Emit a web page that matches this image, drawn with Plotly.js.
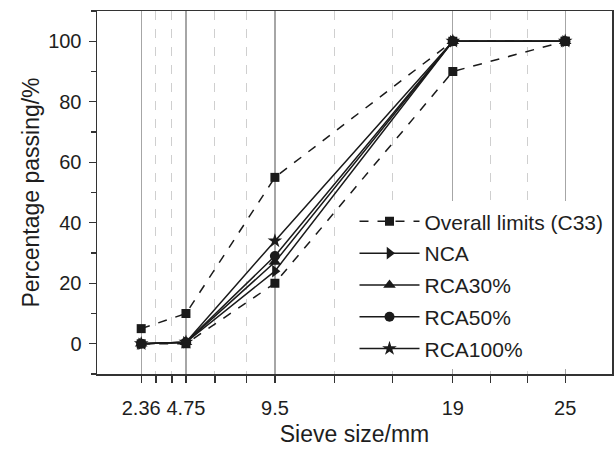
<!DOCTYPE html>
<html>
<head>
<meta charset="utf-8">
<script src="https://cdn.plot.ly/plotly-3.0.1.min.js"></script>
<style>html,body{margin:0;padding:0;background:#fff;}#chart{width:615px;height:451px;}</style>
</head>
<body>
<div id="chart"></div>
<script>
const sieveSizes = [2.36, 4.75, 9.5, 19, 25];
const tickLabels = ["2.36", "4.75", "9.5", "19", "25"];
const minorSieves = [3.15, 4, 6.3, 8, 12.7, 15.8, 21, 23];
const upperLimit = [5, 10, 55, 100, 100];
const lowerLimit = [0, 0, 20, 90, 100];
const nca = [0, 0.5, 24, 100, 100];
const rca30 = [0, 0.5, 27, 100, 100];
const rca50 = [0, 0.5, 29, 100, 100];
const rca100 = [0, 0.5, 34, 100, 100];

const font = {family: "Liberation Sans, Arial, sans-serif", color: "#1e1e1e"};
const solidLine = {color: "#1a1a1a", width: 1.5};
const dashLine = {color: "#1a1a1a", width: 1.5, dash: "dash"};

const traces = [
  {x: sieveSizes, y: upperLimit, name: "Overall limits (C33)", mode: "lines+markers",
   line: dashLine, marker: {symbol: "square", size: 9, color: "#1a1a1a"}, legendgroup: "a"},
  {x: sieveSizes, y: lowerLimit, name: "Overall limits (C33)", mode: "lines+markers", showlegend: false,
   line: dashLine, marker: {symbol: "square", size: 9, color: "#1a1a1a"}, legendgroup: "a"},
  {x: sieveSizes, y: nca, name: "NCA", mode: "lines+markers",
   line: solidLine, marker: {symbol: "triangle-right", size: 11, color: "#1a1a1a"}, legendgroup: "b"},
  {x: sieveSizes, y: rca30, name: "RCA30%", mode: "lines+markers",
   line: solidLine, marker: {symbol: "triangle-up", size: 11, color: "#1a1a1a"}, legendgroup: "c"},
  {x: sieveSizes, y: rca50, name: "RCA50%", mode: "lines+markers",
   line: solidLine, marker: {symbol: "circle", size: 10, color: "#1a1a1a"}, legendgroup: "d"},
  {x: sieveSizes, y: rca100, name: "RCA100%", mode: "lines+markers",
   line: solidLine, marker: {symbol: "star", size: 11, color: "#1a1a1a"}, legendgroup: "e"}
];

const layout = {
  width: 615, height: 451,
  margin: {l: 97, r: 3, t: 11, b: 77},
  paper_bgcolor: "#fff", plot_bgcolor: "#fff",
  font: Object.assign({size: 20}, font),
  showlegend: true,
  legend: {
    x: 0.5, y: 0.476, xanchor: "left", yanchor: "top",
    bgcolor: "#fff", borderwidth: 0,
    font: Object.assign({size: 21}, font),
    itemwidth: 60, traceorder: "grouped", tracegroupgap: 1.5
  },
  xaxis: {
    range: [0, 27.5], showline: true, mirror: true, linecolor: "#333", linewidth: 1.5,
    tickmode: "array", tickvals: sieveSizes, ticktext: tickLabels,
    ticks: "outside", ticklen: 7, tickwidth: 1.2, tickcolor: "#333",
    showgrid: true, gridcolor: "#a6a6a6", gridwidth: 1.2,
    zeroline: false, ticklabelstandoff: 8,
    tickfont: Object.assign({size: 20}, font),
    minor: {tickmode: "array", tickvals: minorSieves, ticks: "outside", ticklen: 7, tickwidth: 1.2,
            tickcolor: "#333", showgrid: true, gridcolor: "#cfcfcf", griddash: "dash", gridwidth: 1},
    title: {text: "Sieve size/mm", font: Object.assign({size: 23}, font), standoff: 8}
  },
  yaxis: {
    range: [-10, 110], showline: true, mirror: true, linecolor: "#333", linewidth: 1.5,
    tickmode: "linear", tick0: 0, dtick: 20,
    ticks: "outside", ticklen: 7, tickwidth: 1.2, tickcolor: "#333",
    showgrid: false, zeroline: false, ticklabelstandoff: 3,
    tickfont: Object.assign({size: 20}, font),
    minor: {dtick: 10, ticks: "outside", ticklen: 5, tickwidth: 1.2, tickcolor: "#333", showgrid: false},
    title: {text: "Percentage passing/%", font: Object.assign({size: 23}, font), standoff: 2}
  }
};

Plotly.newPlot("chart", traces, layout, {displayModeBar: false, staticPlot: true});
</script>
</body>
</html>
